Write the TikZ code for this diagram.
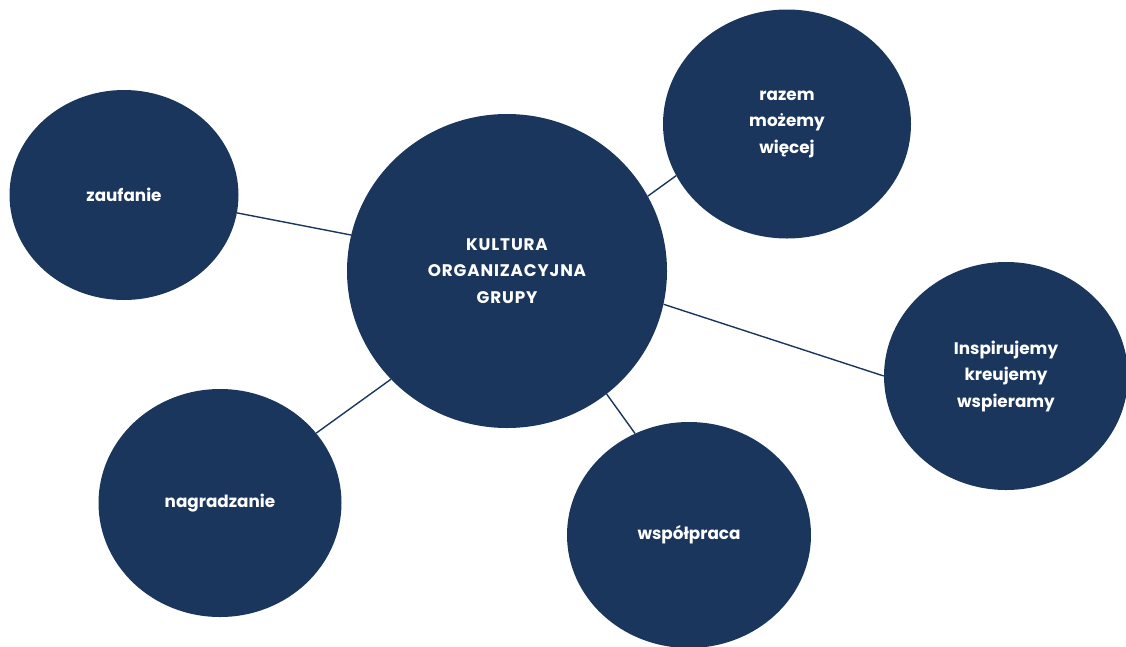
\documentclass[tikz,border=0pt]{standalone}
\usepackage{fontspec}
\setmainfont{Poppins}
\usetikzlibrary{shapes.geometric}
\definecolor{navy}{HTML}{1B365D}
\begin{document}
\begin{tikzpicture}[x=1pt,y=-1pt,
  bubble/.style={ellipse, fill=navy, inner sep=0pt, text=white,
    font=\bfseries\fontsize{16.8}{26.5}\selectfont, align=center},
  link/.style={draw=navy, line width=1.4pt}]
\useasboundingbox (0,0) rectangle (1126,646);
\node[bubble, minimum width=320pt, minimum height=314pt,
  font=\bfseries\fontsize{16.8}{26.5}\selectfont\addfontfeatures{LetterSpace=5}] (c) at (507,271) {KULTURA\\ORGANIZACYJNA\\GRUPY};
\node[bubble, minimum width=229pt, minimum height=210pt] (z) at (124,195) {zaufanie};
\node[bubble, minimum width=248pt, minimum height=229pt] (r) at (787,124) {razem\\możemy\\więcej};
\node[bubble, minimum width=244pt, minimum height=228pt] (i) at (1006,376) {Inspirujemy\\kreujemy\\wspieramy};
\node[bubble, minimum width=243pt, minimum height=228pt] (n) at (220,503) {nagradzanie};
\node[bubble, minimum width=244pt, minimum height=226pt] (w) at (689,535) {współpraca};
\draw[link] (z.-9.9) -- (c.167.9);
\draw[link] (c.28.8) -- (r.205);
\draw[link] (c.-12.6) -- (i.west);
\draw[link] (c.223.2) -- (n.36.6);
\draw[link] (c.-51.1) -- (w.118.4);
\end{tikzpicture}
\end{document}
